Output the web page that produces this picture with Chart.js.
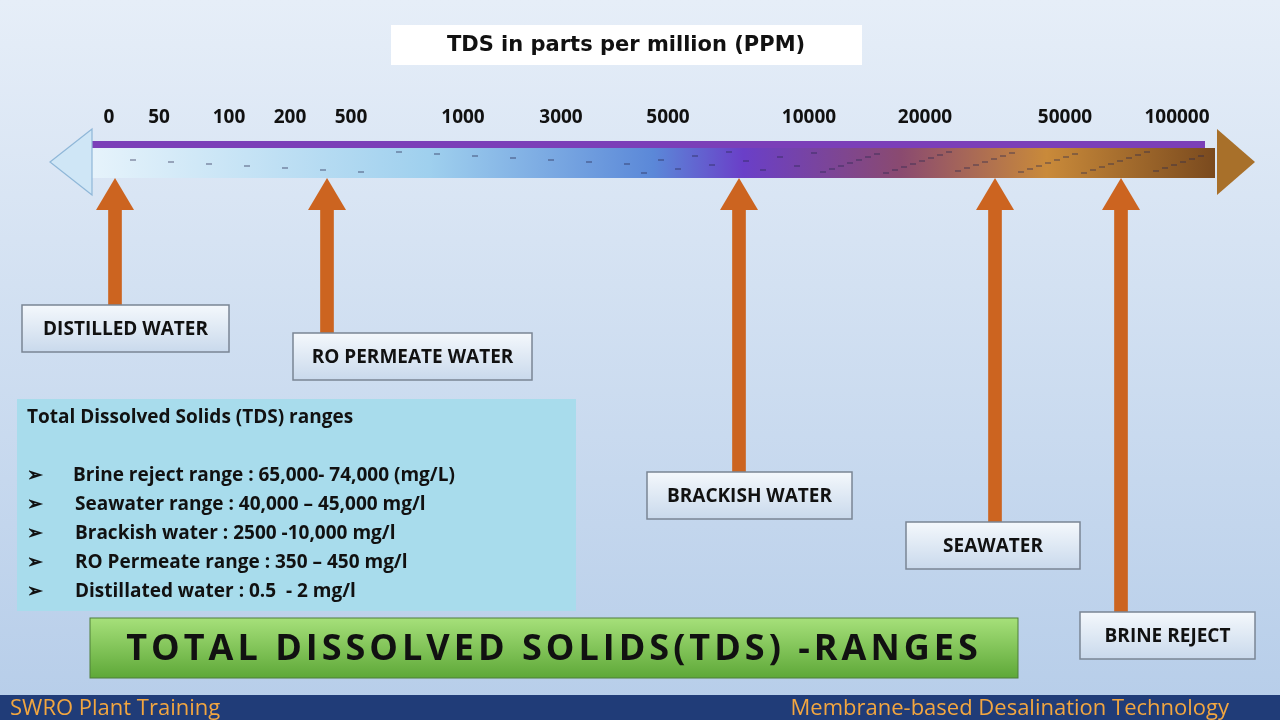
<!DOCTYPE html>
<html><head><meta charset="utf-8">
<script src="https://cdn.jsdelivr.net/npm/chart.js@4"></script>
<style>html,body{margin:0;padding:0;overflow:hidden}canvas{display:block}</style>
</head><body><canvas id="c" width="1280" height="720"></canvas>
<script>
// Scale tick labels and their positions along the axis (scale units)
const tickLabels = ["0","50","100","200","500","1000","3000","5000","10000","20000","50000","100000"];
const tickPos = [109,159,229,290,351,463,561,668,809,925,1065,1177];
// Water categories, where they point on the scale, and where their label box sits
const categories = ["DISTILLED WATER","RO PERMEATE WATER","BRACKISH WATER","SEAWATER","BRINE REJECT"];
const pointAt = [115,327,739,995,1121];
const boxTop = [305,333,472,522,612];
const boxLeft = [22,293,647,906,1080];
const boxRight = [229,532,852,1080,1255];
const rangeLines = ["Brine reject range : 65,000- 74,000 (mg/L)","Seawater range : 40,000 – 45,000 mg/l","Brackish water : 2500 -10,000 mg/l","RO Permeate range : 350 – 450 mg/l","Distillated water : 0.5  - 2 mg/l"];
const headY = 195, tipY = 178;

const ORANGE = '#cc6420';
const deco = {
  id:'deco',
  beforeDraw(ch){
    const c=ch.ctx, X=ch.scales.x, Y=ch.scales.y;
    const px=v=>X.getPixelForValue(v), py=v=>Y.getPixelForValue(v);
    c.save();
    let g=c.createLinearGradient(0,0,0,720);g.addColorStop(0,'#e6eef8');g.addColorStop(1,'#b6cde9');
    c.fillStyle=g;c.fillRect(0,0,1280,720);
    // title
    c.fillStyle='#fff';c.fillRect(391,25,471,40);
    c.fillStyle='#111';c.font='bold 21px "DejaVu Sans", Arial';c.textAlign='center';c.textBaseline='middle';
    c.fillText('TDS in parts per million (PPM)',626,46);
    // ticks
    c.font='bold 19px "Open Sans", Arial';
    tickLabels.forEach((t,i)=>c.fillText(t,px(tickPos[i]),py(118)));
    // tube
    c.fillStyle='#7b3fb8';c.fillRect(92,141,1113,7);
    g=c.createLinearGradient(92,0,1215,0);
    g.addColorStop(0,'#e6f3fb');g.addColorStop(0.3,'#9fd0ee');g.addColorStop(0.5,'#5b88d8');
    g.addColorStop(0.58,'#6a3fc8');g.addColorStop(0.72,'#8a4a70');g.addColorStop(0.85,'#c98a3a');g.addColorStop(1,'#7a4a1e');
    c.fillStyle=g;c.fillRect(92,148,1123,30);
    c.strokeStyle='rgba(40,40,80,0.6)';c.lineWidth=1.2;
    for(let x=130;x<1205;x+=x<600?38:(x<800?17:9)){const yy=152+((x*7)%22);c.beginPath();c.moveTo(x,yy);c.lineTo(x+6,yy);c.stroke();}
    // arrow ends
    c.fillStyle='#cfe6f6';c.strokeStyle='#8fb7d8';c.beginPath();c.moveTo(50,162);c.lineTo(92,129);c.lineTo(92,195);c.closePath();c.fill();c.stroke();
    c.fillStyle='#a8702a';c.beginPath();c.moveTo(1255,162);c.lineTo(1217,129);c.lineTo(1217,195);c.closePath();c.fill();
    // info panel
    c.fillStyle='#a8dcec';c.fillRect(17,399,559,212);
    c.fillStyle='#111';c.textAlign='left';c.font='bold 19px "Open Sans", Arial';
    c.fillText('Total Dissolved Solids (TDS) ranges',27,418);
    rangeLines.forEach((l,i)=>{const y=476+i*29;c.fillText('➢',27,y);c.fillText(l,i==0?73:75,y);});
    // green banner
    g=c.createLinearGradient(0,618,0,678);g.addColorStop(0,'#a6e07a');g.addColorStop(1,'#5ea838');
    c.fillStyle=g;c.fillRect(90,618,928,60);c.strokeStyle='#4f7f3a';c.lineWidth=1;c.strokeRect(90,618,928,60);
    c.fillStyle='#111';c.textAlign='center';c.font='bold 36px "Open Sans", Arial';
    if('letterSpacing' in c)c.letterSpacing='4px';
    c.fillText('TOTAL DISSOLVED SOLIDS(TDS) -RANGES',554,650);
    if('letterSpacing' in c)c.letterSpacing='0px';
    // footer
    c.fillStyle='#203c78';c.fillRect(0,695,1280,25);
    c.fillStyle='#f2a640';c.font='22px "Open Sans", Arial';c.textAlign='left';c.fillText('SWRO Plant Training',10,709);
    c.textAlign='right';c.fillText('Membrane-based Desalination Technology',1229,709);
    c.restore();
  },
  afterDatasetsDraw(ch){
    const c=ch.ctx;c.save();
    categories.forEach((t,i)=>{
      const x=boxLeft[i],y=boxTop[i],w=boxRight[i]-boxLeft[i],h=47;
      const g=c.createLinearGradient(0,y,0,y+h);g.addColorStop(0,'#f4f8fc');g.addColorStop(1,'#c9d9ec');
      c.fillStyle=g;c.fillRect(x,y,w,h);c.strokeStyle='#7a8594';c.lineWidth=1.5;c.strokeRect(x,y,w,h);
      c.fillStyle='#111';c.font='bold 19px "Open Sans", Arial';c.textAlign='center';c.textBaseline='middle';
      c.fillText(t,x+w/2,y+h/2+1);
    });
    c.restore();
  }
};
const arrowHead = {
  id:'heads',
  afterDatasetsDraw(ch){
    const c=ch.ctx,X=ch.scales.x,Y=ch.scales.y;c.save();c.fillStyle=ORANGE;
    pointAt.forEach(v=>{const x=X.getPixelForValue(v),t=Y.getPixelForValue(tipY),b=Y.getPixelForValue(headY+15);
      c.beginPath();c.moveTo(x,t);c.lineTo(x+19,b);c.lineTo(x-19,b);c.closePath();c.fill();});
    c.restore();
  }
};
new Chart(document.getElementById('c'),{
  type:'bar',
  data:{datasets:[{data:pointAt.map((v,i)=>({x:v,y:[headY,boxTop[i]]})),backgroundColor:ORANGE,barThickness:13}]},
  options:{responsive:false,animation:false,devicePixelRatio:1,
    layout:{padding:0},
    plugins:{legend:{display:false},tooltip:{enabled:false}},
    scales:{x:{type:'linear',min:0,max:1280,display:false,offset:false,grid:{offset:false}},y:{min:0,max:720,reverse:true,display:false}}},
  plugins:[deco,arrowHead]
});
</script></body></html>
